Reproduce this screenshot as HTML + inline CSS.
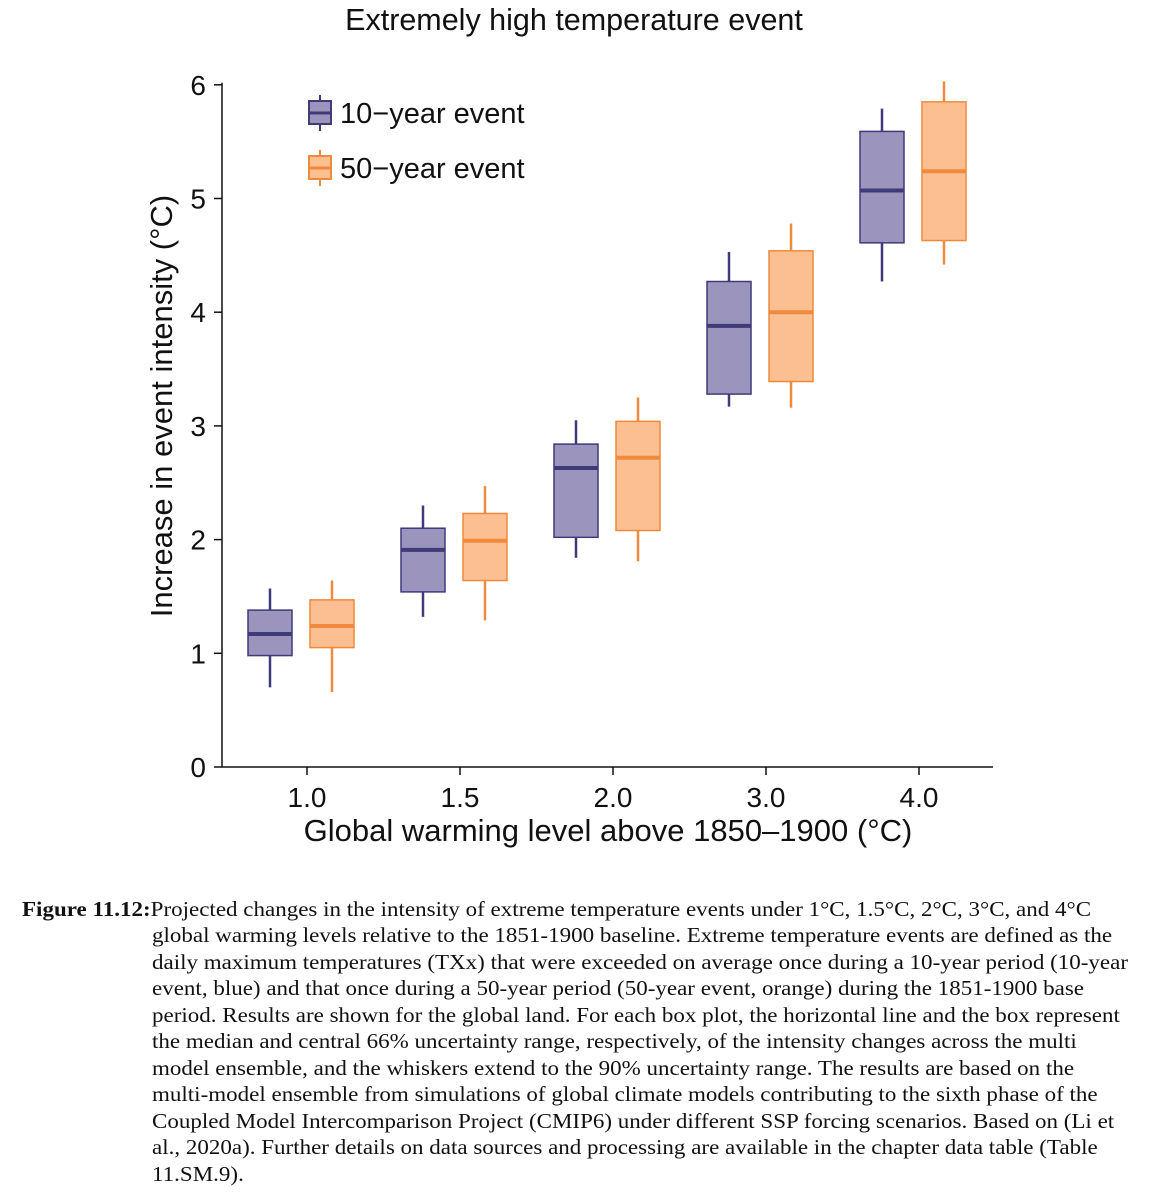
<!DOCTYPE html>
<html><head><meta charset="utf-8">
<style>
body{margin:0;background:#fff;width:1174px;height:1200px;overflow:hidden;position:relative}
svg text{font-family:"Liberation Sans",Arial,sans-serif;fill:#111}
.cap{position:absolute;font-family:"Liberation Serif","Times New Roman",serif;font-size:21.5px;color:#111;white-space:nowrap;left:152px;transform:scaleX(1.07);transform-origin:0 0}
</style></head><body>
<svg id="chart" width="1174" height="880" style="position:absolute;left:0;top:0">
<text x="574" y="30" font-size="30.5" text-anchor="middle">Extremely high temperature event</text>
<g id="axes"></g><g id="marks"></g>
<g>
<line x1="320" y1="95" x2="320" y2="131" stroke="#3f3a7a" stroke-width="2"/>
<rect x="309" y="101" width="22" height="23" fill="#9b95bd" stroke="#3f3a7a" stroke-width="2"/>
<line x1="309" y1="113" x2="331" y2="113" stroke="#3f3a7a" stroke-width="3"/>
<text x="340" y="123" font-size="29">10−year event</text>
<line x1="320" y1="150" x2="320" y2="186" stroke="#f08a3c" stroke-width="2"/>
<rect x="309" y="156" width="22" height="23" fill="#fbbf91" stroke="#f08a3c" stroke-width="2"/>
<line x1="309" y1="168" x2="331" y2="168" stroke="#f08a3c" stroke-width="3"/>
<text x="340" y="178" font-size="29">50−year event</text>
</g>
<text transform="translate(172,406) rotate(-90)" font-size="31" text-anchor="middle">Increase in event intensity (°C)</text>
<text x="608" y="841" font-size="31" text-anchor="middle">Global warming level above 1850–1900 (°C)</text>
</svg>
<div class="cap" style="left:22px;top:897px"><b>Figure 11.12:</b>Projected changes in the intensity of extreme temperature events under 1°C, 1.5°C, 2°C, 3°C, and 4°C</div>
<div class="cap" style="top:923px">global warming levels relative to the 1851-1900 baseline. Extreme temperature events are defined as the</div>
<div class="cap" style="top:950px">daily maximum temperatures (TXx) that were exceeded on average once during a 10-year period (10-year</div>
<div class="cap" style="top:976px">event, blue) and that once during a 50-year period (50-year event, orange) during the 1851-1900 base</div>
<div class="cap" style="top:1003px">period. Results are shown for the global land. For each box plot, the horizontal line and the box represent</div>
<div class="cap" style="top:1029px">the median and central 66% uncertainty range, respectively, of the intensity changes across the multi</div>
<div class="cap" style="top:1056px">model ensemble, and the whiskers extend to the 90% uncertainty range. The results are based on the</div>
<div class="cap" style="top:1082px">multi-model ensemble from simulations of global climate models contributing to the sixth phase of the</div>
<div class="cap" style="top:1109px">Coupled Model Intercomparison Project (CMIP6) under different SSP forcing scenarios. Based on (Li et</div>
<div class="cap" style="top:1135px">al., 2020a). Further details on data sources and processing are available in the chapter data table (Table</div>
<div class="cap" style="top:1162px">11.SM.9).</div>
<script>
const categories=["1.0","1.5","2.0","3.0","4.0"];
const yTicks=[0,1,2,3,4,5,6];
const p10Low=[0.70,1.32,1.84,3.17,4.27];
const p10Q1=[0.98,1.54,2.02,3.28,4.61];
const p10Med=[1.17,1.91,2.63,3.88,5.07];
const p10Q3=[1.38,2.10,2.84,4.27,5.59];
const p10High=[1.57,2.30,3.05,4.53,5.79];
const p50Low=[0.66,1.29,1.81,3.16,4.42];
const p50Q1=[1.05,1.64,2.08,3.39,4.63];
const p50Med=[1.24,1.99,2.72,4.00,5.24];
const p50Q3=[1.47,2.23,3.04,4.54,5.85];
const p50High=[1.64,2.47,3.25,4.78,6.03];
const NS="http://www.w3.org/2000/svg";
const y=v=>767-v*113.7;
const x=i=>307+i*153;
function mk(t,a,parent){const e=document.createElementNS(NS,t);for(const k in a)e.setAttribute(k,a[k]);parent.appendChild(e);return e;}
const axes=document.getElementById('axes'),marks=document.getElementById('marks');
const ya=mk('line',{x1:222,y1:y(6)-2,x2:222,y2:767,stroke:'#111','stroke-width':1.5},axes);

const xa=mk('line',{x1:222,y1:767,x2:993,y2:767,stroke:'#111','stroke-width':1.5},axes);

yTicks.forEach(v=>{
 mk('line',{x1:214,y1:y(v),x2:222,y2:y(v),stroke:'#111','stroke-width':1.5},axes);
 const t=mk('text',{x:206,y:y(v)+10,'font-size':28,'text-anchor':'end'},axes);t.textContent=v;
 
});
categories.forEach((c,i)=>{
 mk('line',{x1:x(i),y1:767,x2:x(i),y2:775,stroke:'#111','stroke-width':1.5},axes);
 const t=mk('text',{x:x(i),y:807,'font-size':28,'text-anchor':'middle'},axes);t.textContent=c;
 
});
function box(cx,lo,q1,md,q3,hi,fill,st,name){
 const g=mk('g',{},marks);
 
 mk('line',{x1:cx,y1:y(hi),x2:cx,y2:y(lo),stroke:st,'stroke-width':2.5},g);
 mk('rect',{x:cx-22,y:y(q3),width:44,height:y(q1)-y(q3),fill:fill,stroke:st,'stroke-width':1.5},g);
 mk('line',{x1:cx-22,y1:y(md),x2:cx+22,y2:y(md),stroke:st,'stroke-width':4},g);
}
categories.forEach((c,i)=>{
 box(x(i)-37,p10Low[i],p10Q1[i],p10Med[i],p10Q3[i],p10High[i],'#9b95bd','#3f3a7a','box-10yr-'+c);
 box(x(i)+25,p50Low[i],p50Q1[i],p50Med[i],p50Q3[i],p50High[i],'#fbbf91','#f08a3c','box-50yr-'+c);
});
</script>
</body></html>
